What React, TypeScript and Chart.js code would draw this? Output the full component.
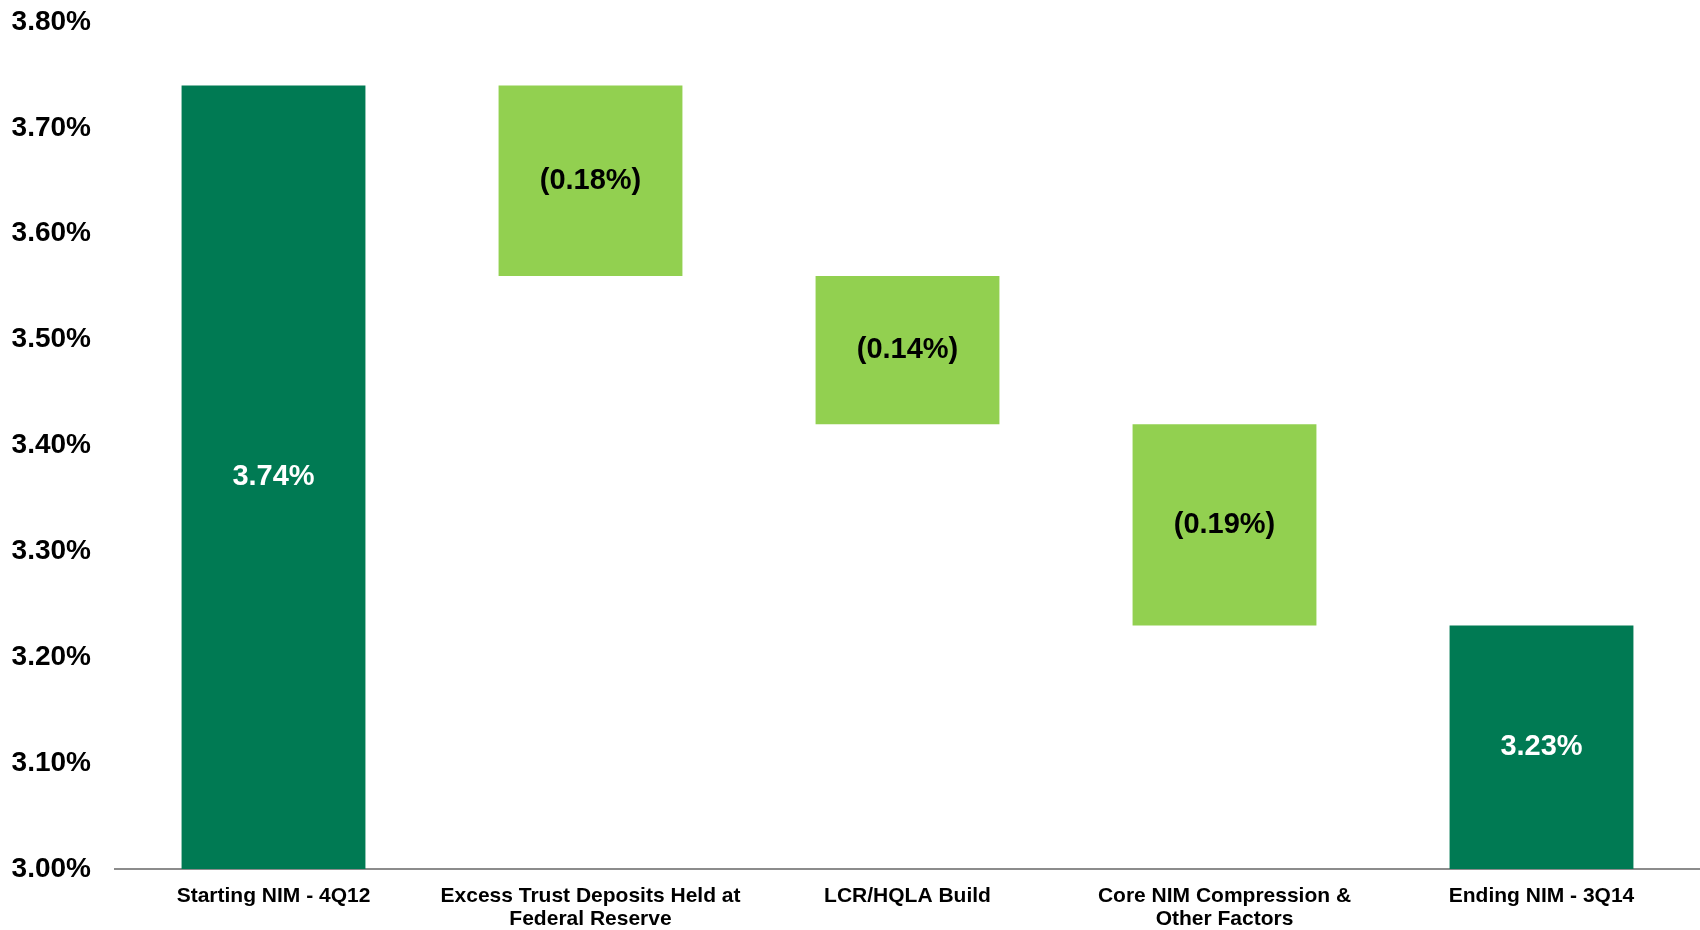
import React, { useEffect, useRef } from "react";
import { Chart, registerables } from "chart.js";

Chart.register(...registerables);

const categories: (string | string[])[] = [
  "Starting NIM - 4Q12",
  ["Excess Trust Deposits Held at", "Federal Reserve"],
  "LCR/HQLA Build",
  ["Core NIM Compression &", "Other Factors"],
  "Ending NIM - 3Q14",
];
const startingNim = 3.74;
const changes = [-0.18, -0.14, -0.19];
const endingNim = 3.23;
const axisMin = 3.0;
const axisMax = 3.8;
const axisStep = 0.1;

const DARK = "#007A53";
const LIGHT = "#92D050";
const FONT = "'Liberation Sans', Arial, Helvetica, sans-serif";

function buildBars() {
  const ranges: [number, number][] = [];
  const labels: string[] = [];
  const colors: string[] = [];
  const textColors: string[] = [];
  ranges.push([axisMin, startingNim]);
  labels.push(startingNim.toFixed(2) + "%");
  colors.push(DARK);
  textColors.push("#ffffff");
  let level = startingNim;
  for (const c of changes) {
    const next = Math.round((level + c) * 100) / 100;
    ranges.push([Math.min(level, next), Math.max(level, next)]);
    labels.push(c < 0 ? "(" + Math.abs(c).toFixed(2) + "%)" : c.toFixed(2) + "%");
    colors.push(LIGHT);
    textColors.push("#000000");
    level = next;
  }
  ranges.push([axisMin, endingNim]);
  labels.push(endingNim.toFixed(2) + "%");
  colors.push(DARK);
  textColors.push("#ffffff");
  return { ranges, labels, colors, textColors };
}

export default function App() {
  const ref = useRef<HTMLCanvasElement | null>(null);

  useEffect(() => {
    if (!ref.current) return;
    const { ranges, labels, colors, textColors } = buildBars();

    const dataLabelPlugin = {
      id: "centerLabels",
      afterDatasetsDraw(chart: any) {
        const ctx = chart.ctx;
        const meta = chart.getDatasetMeta(0);
        ctx.save();
        ctx.font = `bold 29px ${FONT}`;
        ctx.textAlign = "center";
        ctx.textBaseline = "middle";
        meta.data.forEach((el: any, i: number) => {
          const cy = (el.y + el.base) / 2;
          ctx.fillStyle = textColors[i];
          ctx.fillText(labels[i], el.x, cy);
        });
        ctx.restore();
      },
    };

    const chart = new Chart(ref.current, {
      type: "bar",
      data: {
        labels: categories,
        datasets: [
          {
            data: ranges as any,
            backgroundColor: colors,
            borderWidth: 0,
            barPercentage: 0.58,
            categoryPercentage: 1,
          },
        ],
      },
      options: {
        responsive: false,
        animation: false,
        layout: { padding: { top: 22, left: 0, right: 0, bottom: 0 } },
        plugins: {
          legend: { display: false },
          tooltip: { enabled: false },
        },
        scales: {
          x: {
            grid: { display: false, drawTicks: false },
            border: { display: true, color: "#8c8c8c", width: 2 },
            ticks: {
              color: "#000",
              font: { family: FONT, size: 21, weight: "bold", lineHeight: 1.12 },
              maxRotation: 0,
              autoSkip: false,
              padding: 15,
            },
            afterFit: (scale: any) => {
              scale.height = 61;
              scale.paddingLeft = 0;
              scale.paddingRight = 0;
            },
          },
          y: {
            min: axisMin,
            max: axisMax,
            grid: { display: false, drawTicks: false },
            border: { display: false },
            ticks: {
              stepSize: axisStep,
              color: "#000",
              font: { family: FONT, size: 28, weight: "bold" },
              padding: 24,
              callback: (v: any) => Number(v).toFixed(2) + "%",
            },
            afterFit: (scale: any) => {
              scale.width = 115;
              scale.paddingTop = 0;
              scale.paddingBottom = 0;
            },
          },
        },
      },
      plugins: [dataLabelPlugin],
    });
    return () => chart.destroy();
  }, []);

  return (
    <div style={{ position: "absolute", left: 0, top: 0, width: 1700, height: 930, background: "#fff" }}>
      <canvas ref={ref} width={1700} height={930} style={{ display: "block", width: 1700, height: 930 }} />
    </div>
  );
}
